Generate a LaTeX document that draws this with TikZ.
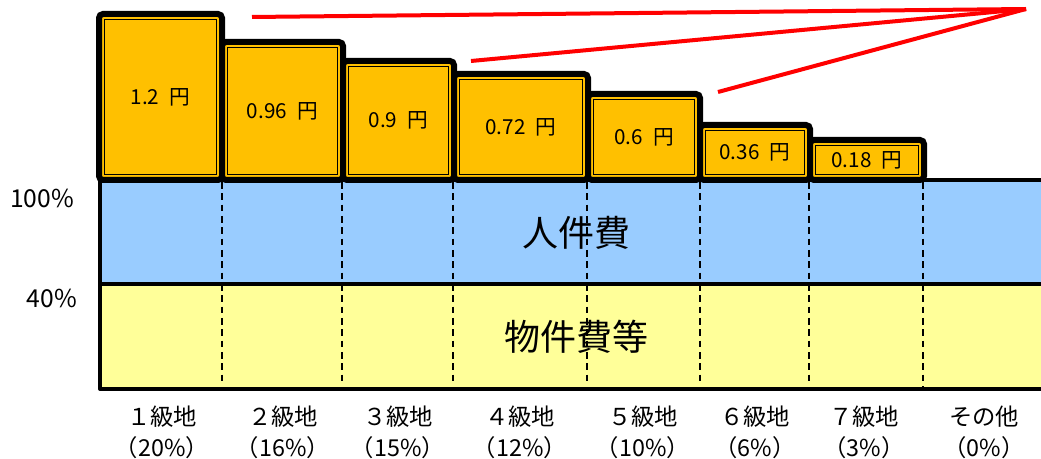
\documentclass[tikz,border=0pt]{standalone}
\usepackage{fontspec}
\setmainfont{Noto Sans CJK JP}
\usetikzlibrary{positioning}
\definecolor{barorange}{RGB}{255,192,0}
\definecolor{laborblue}{RGB}{153,204,255}
\definecolor{goodsyellow}{RGB}{255,255,153}
\tikzstyle{barframe} = [draw=black, line width=4.5pt, fill=barorange, rounded corners=3pt]
\tikzstyle{barinner} = [draw=black, line width=1.1pt]
\tikzstyle{barlabel} = [inner sep=0pt, font=\fontsize{15.5}{18}\selectfont]
\tikzstyle{divider} = [draw=black, line width=1.1pt, dash pattern=on 5pt off 3.5pt]
\tikzstyle{bandrule} = [draw=black, line width=3pt, line join=round]
\tikzstyle{redline} = [draw=red, line width=3pt]
\tikzstyle{classlabel} = [align=center, inner sep=0pt, font=\fontsize{17.5}{23.25}\selectfont]
\tikzstyle{pctlabel} = [inner sep=0pt, font=\fontsize{18.5}{20}\selectfont]
\tikzstyle{bandlabel} = [inner sep=0pt, font=\fontsize{27}{30}\selectfont]
% name, left, right, top, label
\newcommand{\yenbar}[5]{%
  \draw[barframe] (#2,#4) rectangle (#3,180);
  \draw[barinner] (#2+5.5,#4+5.5) rectangle (#3-5.5,174.5);
  \node[barlabel] (#1) at ({(#2+#3)/2},{(#4+180)/2}) {#5};
}

\begin{document}
\begin{tikzpicture}[x=0.75pt,y=-0.75pt]
  \useasboundingbox (0,0) rectangle (1041,459);
  % bands
  \fill[laborblue] (100,180) rectangle (1045,284);
  \fill[goodsyellow] (100,284) rectangle (1045,389);
  \draw[divider] (222,182) -- (222,383);
  \draw[divider] (342,182) -- (342,383);
  \draw[divider] (453,182) -- (453,383);
  \draw[divider] (587,182) -- (587,383);
  \draw[divider] (700,182) -- (700,383);
  \draw[divider] (809,182) -- (809,383);
  \draw[divider] (923,182) -- (923,389);
  \draw[bandrule] (1045,180) -- (100,180) -- (100,389) -- (1045,389);
  \draw[bandrule, line width=3.5pt] (100,284) -- (1045,284);
  \node[bandlabel] (labor) at (576,233) {人件費};
  \node[bandlabel] (goods) at (576,337) {物件費等};
  % bars
  \yenbar{b1}{99}{222}{14}{1.2\enspace 円}
  \yenbar{b2}{222}{343}{42}{0.96\enspace 円}
  \yenbar{b3}{343}{454}{61}{0.9\enspace 円}
  \yenbar{b4}{454}{588}{74}{0.72\enspace 円}
  \yenbar{b5}{588}{700}{94}{0.6\enspace 円}
  \yenbar{b6}{700}{810}{125}{0.36\enspace 円}
  \yenbar{b7}{810}{924}{140}{0.18\enspace 円}
  % red lines
  \coordinate (apex) at (1026,9);
  \coordinate (tip1) at (252,17);
  \coordinate (tip2) at (471,61);
  \coordinate (tip3) at (718,92);
  \draw[redline] (apex) -- (tip1);
  \draw[redline] (apex) -- (tip2);
  \draw[redline] (apex) -- (tip3);
  % axis labels
  \node[pctlabel] (p100) at (42,198) {100\%};
  \node[pctlabel] (p40) at (52,298) {40\%};
  \node[classlabel] (c1) at (162,432) {１級地\\（20\%）};
  \node[classlabel] (c2) at (283,432) {２級地\\（16\%）};
  \node[classlabel] (c3) at (398,432) {３級地\\（15\%）};
  \node[classlabel] (c4) at (520,432) {４級地\\（12\%）};
  \node[classlabel] (c5) at (643,432) {５級地\\（10\%）};
  \node[classlabel] (c6) at (755,432) {６級地\\（6\%）};
  \node[classlabel] (c7) at (864,432) {７級地\\（3\%）};
  \node[classlabel] (c8) at (984,432) {その他\\（0\%）};
\end{tikzpicture}
\end{document}
